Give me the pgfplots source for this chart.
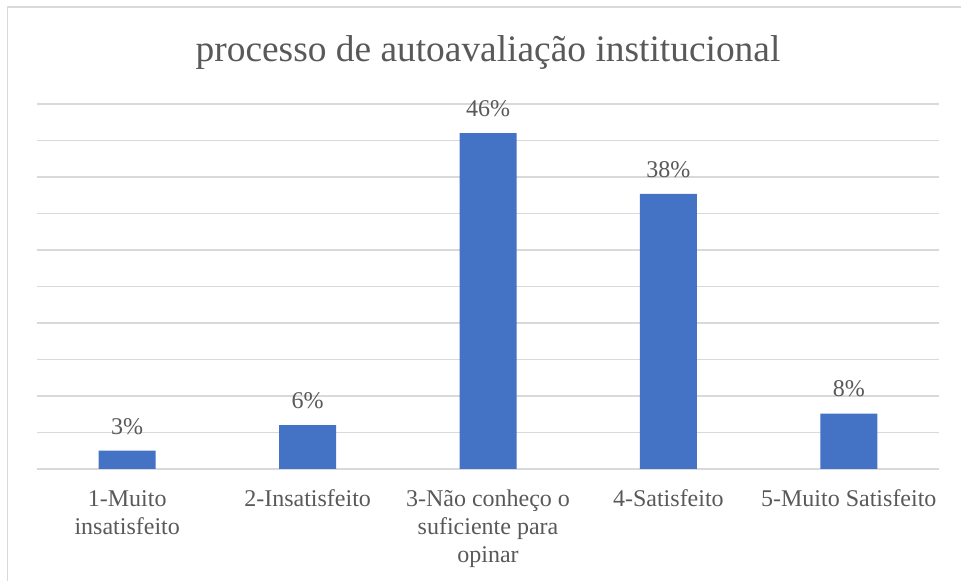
\documentclass[border=0pt]{standalone}
\usepackage{pgfplots}
\pgfplotsset{compat=1.18}
\usepackage{fontspec}
\setmainfont{Liberation Serif}

\definecolor{barblue}{HTML}{4472C4}
\definecolor{txtgray}{HTML}{595959}
\definecolor{gridgray}{HTML}{D9D9D9}

\newcommand{\lab}[1]{\begin{tabular}[t]{@{}c@{}}#1\end{tabular}}

\begin{document}
\begin{tikzpicture}
  % page = 961x581 px at 0.5pt per px, plot area lower-left at (0,0)
  \path[use as bounding box] (-18.5pt,-56pt) rectangle (462pt,234.5pt);
  \draw[gridgray, line width=0.75pt] (-14.75pt,-60pt) -- (-14.75pt,231pt) -- (465pt,231pt);
  \begin{axis}[
      scale only axis,
      width=451pt, height=182.5pt,
      ybar, bar width=28.5pt,
      xmin=-0.5, xmax=4.5,
      ymin=0, ymax=50,
      ytick={0,5,...,50},
      yticklabels={},
      xtick={0,1,2,3,4},
      xticklabels={{\lab{1-Muito\\insatisfeito}},{\lab{2-Insatisfeito}},
                   {\lab{3-Não conheço o\\suficiente para\\opinar}},
                   {\lab{4-Satisfeito}},{\lab{5-Muito Satisfeito}}},
      xticklabel style={anchor=base, inner sep=0pt,
                        yshift=-18.8pt, text=txtgray,
                        font=\fontsize{12}{14}\selectfont},
      ymajorgrids,
      major grid style={gridgray, line width=0.75pt},
      axis line style={draw=none},
      major tick length=0pt,
      clip=false,
      title={processo de autoavaliação institucional},
      title style={at={(0.5,1)}, anchor=base, yshift=15pt, text=txtgray,
                   font=\fontsize{18.7}{22}\selectfont},
      nodes near coords={\pgfplotspointmeta\%},
      point meta=explicit symbolic,
      every node near coord/.append style={anchor=base, inner sep=0pt,
                        yshift=8.3pt, text=txtgray,
                        font=\fontsize{12}{14}\selectfont},
    ]
    \addplot[fill=barblue, draw=none]
      table[meta=lab] {
        x  y     lab
        0  2.5   3
        1  6.0   6
        2  46.0  46
        3  37.7  38
        4  7.6   8
      };
  \end{axis}
\end{tikzpicture}
\end{document}
